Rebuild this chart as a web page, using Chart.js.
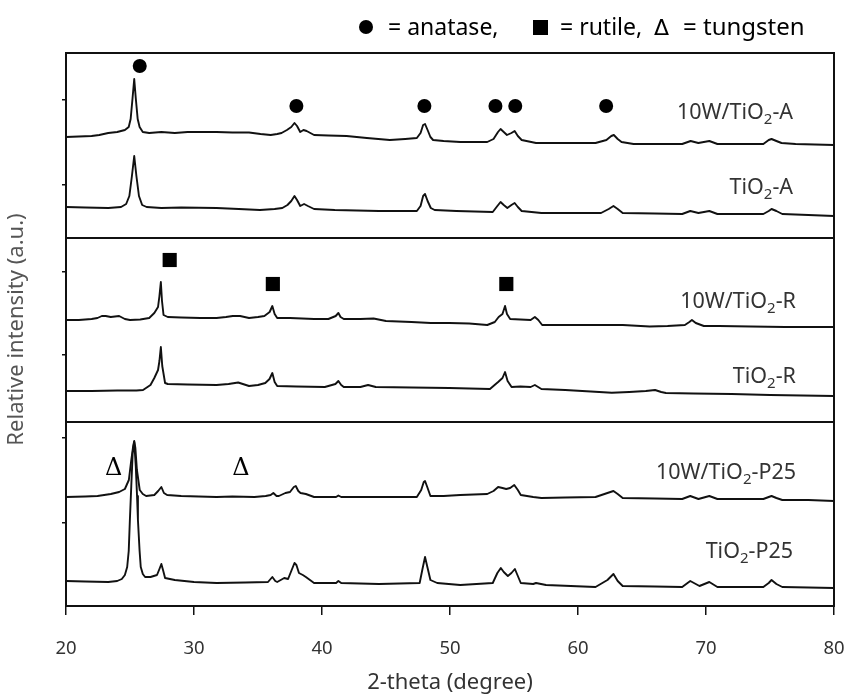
<!DOCTYPE html>
<html><head><meta charset="utf-8">
<script src="https://cdn.jsdelivr.net/npm/chart.js@4"></script>
<style>html,body{margin:0;padding:0;background:#fff}canvas{display:block}</style>
</head><body><canvas id="c" width="849" height="696"></canvas>
<script>
// ---- data (2-theta in degrees, stacked relative intensity in a.u.) ----
const tt_W_A = [20,21,22,22.6,23.3,24,24.6,24.9,25.05,25.2,25.33,25.45,25.6,25.75,26,26.5,27.45,28.5,29.5,30.5,31.76,33,34.3,35.2,35.99,36.5,36.84,37.26,37.6,37.85,38.05,38.3,38.55,38.8,39.38,40.5,41.92,43.5,45.3,46.5,47.41,47.7,47.9,48.05,48.25,48.47,48.68,49.5,50.8,52,52.91,53.4,53.75,53.95,54.2,54.45,54.8,55.05,55.3,55.6,56.72,58,61.37,62.22,62.6,62.8,63.1,63.4,64.34,66,68.14,68.8,69.4,70.26,70.89,72.5,74.48,74.9,75.12,75.5,75.9,77,78.5,80];
const I_W_A  = [469,469.5,470,471,473,474,476,479,487,508,527,508,487,479,474,473,474,473,474,474,474,473.5,473.5,472,471,472,473,476,479,483,480,474,476,475,471,470.5,470,468,466,467,468,473,481,482,476,469,466,465,464,464,464,467,474,477,474,471,473,475,470,466,463,463,463,466,470,471,467,464,462,462,462,465,463,465,462,462,462,466,467,465,463,462,461.5,461];

const tt_A = [20,21.5,23.3,24.3,24.7,24.95,25.15,25.33,25.5,25.7,25.95,26.3,27.45,29,31.76,33.5,35.15,36.3,36.9,37.3,37.6,37.85,38.05,38.3,38.6,38.9,39.38,41,44.45,47.41,47.7,47.9,48.05,48.25,48.5,48.8,50.5,53.34,53.7,53.95,54.2,54.48,54.8,55.05,55.3,55.6,57.14,60,61.8,62.4,62.77,63.1,63.49,66,68.14,68.77,69.41,70.26,70.89,74.48,74.9,75.12,75.5,75.96,78,80];
const I_A  = [399,398.5,398,399,402,410,430,450,430,410,401,399,398,398.5,398,397,396,397,398,401,405,410,406,400,402,400,397,396,395,395,400,410,412,405,398,396,395,394,400,404,401,398,401,403,399,395,393,393,393,397,400,397,393,392.5,392,395,393,395,392,392,395,397,395,392,391,390];

const tt_W_R = [20,21,22,22.46,22.8,23.1,23.5,24.15,24.6,25,25.8,26.5,26.9,27.19,27.3,27.41,27.5,27.62,27.95,29,30.5,31.76,32.5,33.03,33.6,34.3,35,35.5,35.91,36.12,36.3,36.5,37.5,39.38,40.5,41.07,41.28,41.45,41.7,43,44.03,45,46.99,48.5,49.95,51.5,52.91,53.5,53.8,54.1,54.3,54.45,54.7,55.5,56.3,56.63,56.9,57.2,59,62.64,63.5,65.6,67,68.35,68.7,68.9,69.2,69.83,71,73.5,76.17,78,80];
const I_W_R  = [286,286,287,288,290,290,289,290,287,286,286.5,288,293,299,310,324,305,291,289,288.5,288,288,289,290,290,288,289,290,294,300,292,288,288,287,287,290,293,289,287,287,287.5,285,284,283,283,282.5,281,284,289,292,300,292,287,286.5,286,289,286,281,281,281,281,279.5,280,281,284,286,283,280,280,279.5,279,279,279];

const tt_R = [20,22,24,25.5,26.02,26.6,26.9,27.19,27.3,27.41,27.52,27.74,27.95,29.5,31.76,32.7,33.45,34.3,35,35.57,35.9,36.12,36.3,36.5,38,40.22,41.05,41.28,41.5,41.7,43,43.6,44.2,47,49.95,51.5,53.12,53.76,54.1,54.3,54.5,54.81,55.5,56.3,56.63,57.14,59,61,62.64,64,65.3,66.02,66.5,66.87,69,72,75,77.5,80];
const I_R  = [215,215,215.5,215.5,216,221,228,236,245,259,240,223,222,221.5,221,222,223.5,220,221,223,227,233,224,220,219.5,219,222,225,221,219,219,221,219,218.5,218,217.5,217,224,228,234,225,219,219.5,219,221,217,216,214.5,213.3,214,215,216,214,213,212.5,212,211,210.5,210];

const tt_W_P = [20,21.5,22.46,23.5,24.15,24.6,24.91,25.1,25.25,25.33,25.42,25.54,25.76,26,26.26,26.9,27.2,27.45,27.65,27.9,29,31.76,33,34.72,35.6,35.99,36.2,36.45,36.63,37.14,37.5,37.8,37.95,38.15,38.32,38.74,39.38,41.1,41.28,41.5,44.45,47.41,47.75,47.95,48.05,48.25,48.47,49.5,50.8,52.91,53.4,53.76,54.1,54.39,54.7,55.02,55.3,55.53,56.5,57.14,59,61.37,62.3,62.77,63.1,63.49,66,68.14,68.77,69.41,70.26,70.89,72.5,74.48,74.9,75.12,75.5,75.96,78,80];
const I_W_P  = [109,109.5,110,112,114,117,126,146,160,165,158,136,116,112,110,111,115,119,113,111,110,109,109.5,109,110,111,113,110,110,113,114,119,120,115,113,112,109,109,110.5,109,109,109,116,124,125,118,110,110,111,112,115,119,118,117,118,121,116,111,109,108,108.5,109,113,115,112,108,107.5,107,110,107,110,107,107,107,109,110,108,106,106,105];

const tt_P = [20,21.5,23.3,24,24.36,24.6,24.78,24.9,24.99,25.1,25.21,25.33,25.45,25.55,25.62,25.75,25.84,26,26.18,26.6,27.11,27.3,27.45,27.6,27.74,28.5,30,31.76,34,35.78,36.12,36.35,36.5,37.05,37.35,37.6,37.85,38,38.2,38.5,38.74,39.38,41.1,41.28,41.5,44.45,47.63,47.85,48.05,48.25,48.47,49,50.8,53.34,53.7,53.97,54.2,54.52,54.8,55.07,55.3,55.53,56.5,56.72,57.5,61.37,62.3,62.77,63.1,63.49,66,68.14,68.77,69.49,70.26,70.89,74.48,74.9,75.12,75.5,75.96,78,80];
const I_P  = [25,24.5,24,25,27,31,39,55,86,120,153,164,140,110,86,55,39,32,29,29,31,37,42,35,28,26,24,23,23.5,24,29,25,24,28,27,35,43,41,33,31,29,23,23,25,23,22,23,37,49,38,26,23,21,23,33,38,34,30,33,37,30,23,22,23,21,19,26,32,25,20,19.5,19,25,20,24,19,19,23,26,22,19,18.5,18];

const seriesNames = ['10W/TiO2-A','TiO2-A','10W/TiO2-R','TiO2-R','10W/TiO2-P25','TiO2-P25'];
const seriesX = [tt_W_A, tt_A, tt_W_R, tt_R, tt_W_P, tt_P];
const seriesY = [I_W_A, I_A, I_W_R, I_R, I_W_P, I_P];

// label anchors (right edge angle, intensity level)
const labelX = [76.8, 76.8, 77.03, 77.03, 77.03, 76.8];
const labelY = [493, 418, 304, 229, 133, 54];

// phase markers [angle, level]
const anataseMarks = [[25.76,540],[38.0,500],[48.0,500],[53.55,500],[55.1,500],[62.2,500]];
const rutileMarks = [[28.1,346],[36.16,322],[54.4,322]];
const tungstenMarks = [[23.73,137],[33.66,137]];

const xTicks = [20,30,40,50,60,70,80];
const yTickLevels = [83,168,251,334,421,506];
const panelDividers = [184,368];

// ---- chart ----
const lineSets = seriesNames.map((n,i)=>({
  label:n, data: seriesX[i].map((x,k)=>({x, y: seriesY[i][k]})),
  borderColor:'#111', borderWidth:1.9, pointRadius:0, tension:0, fill:false, borderJoinStyle:'round'
}));
const markSet = (arr, style, r) => ({
  type:'scatter', data: arr.map(p=>({x:p[0], y:p[1]})), showLine:false,
  pointStyle:style, pointRadius:r, pointHoverRadius:r, backgroundColor:'#000', borderColor:'#000', borderWidth:0
});

const annot = {
  id:'annot',
  afterDatasetsDraw(chart){
    const {ctx, scales:{x, y}} = chart;
    ctx.save();
    // tungsten deltas
    ctx.fillStyle='#000'; ctx.textAlign='center'; ctx.textBaseline='middle';
    ctx.font='24px "DejaVu Serif"';
    tungstenMarks.forEach(p=>ctx.fillText('Δ', x.getPixelForValue(p[0]), y.getPixelForValue(p[1])));
    // sample labels with subscript
    ctx.fillStyle='#333'; ctx.textBaseline='middle'; ctx.textAlign='left';
    const big='21.5px "Noto Sans"', small='15px "Noto Sans"';
    seriesNames.forEach((n,i)=>{
      const idx=n.indexOf('O2');
      const a=n.slice(0,idx+1), s='2', b=n.slice(idx+2);
      ctx.font=big; const wa=ctx.measureText(a).width, wb=ctx.measureText(b).width;
      ctx.font=small; const ws=ctx.measureText(s).width;
      const right=x.getPixelForValue(labelX[i]), cy=y.getPixelForValue(labelY[i]);
      let px=right-(wa+ws+wb);
      ctx.font=big; ctx.fillText(a,px,cy); px+=wa;
      ctx.font=small; ctx.fillText(s,px,cy+7); px+=ws;
      ctx.font=big; ctx.fillText(b,px,cy);
    });
    // top key
    ctx.fillStyle='#000'; ctx.textBaseline='alphabetic'; ctx.textAlign='left';
    ctx.font='23px "Noto Sans"';
    const ky=35;
    ctx.beginPath(); ctx.arc(366,27,7,0,Math.PI*2); ctx.fill();
    ctx.fillText('= anatase,',388,ky);
    ctx.fillRect(533,20,15,15);
    ctx.fillText('= rutile,',560,ky);
    ctx.font='22px "DejaVu Sans"'; ctx.fillText('Δ',654,ky);
    ctx.font='24px "Noto Sans"'; ctx.fillText('= tungsten',683,ky);
    ctx.restore();
  }
};

new Chart(document.getElementById('c'), {
  type:'line',
  data:{datasets:[...lineSets, markSet(anataseMarks,'circle',7), markSet(rutileMarks,'rect',10)]},
  options:{
    responsive:false, animation:false, devicePixelRatio:1,
    layout:{padding:{left:0,right:15,top:53,bottom:0}},
    plugins:{legend:{display:false}, tooltip:{enabled:false}},
    scales:{
      x:{type:'linear', position:'bottom', min:20, max:80,
        afterBuildTicks:s=>{s.ticks=xTicks.map(v=>({value:v}));},
        ticks:{color:'#333', font:{size:18.5, family:'"Noto Sans"'}, padding:23, maxRotation:0},
        grid:{drawOnChartArea:false, drawTicks:true, tickLength:9, color:'#111', lineWidth:1.5},
        border:{display:true, color:'#111', width:2},
        title:{display:true, text:'2-theta (degree)', color:'#333', font:{size:22, family:'"Noto Sans"'}, padding:{top:0,bottom:0}},
        afterFit:s=>{s.height=90; s.paddingLeft=0; s.paddingRight=0;}
      },
      x2:{type:'linear', position:'top', min:20, max:80,
        ticks:{display:false}, grid:{display:true, drawOnChartArea:false, drawTicks:false},
        border:{display:true, color:'#111', width:2},
        afterFit:s=>{s.height=0; s.paddingLeft=0; s.paddingRight=0;}
      },
      y:{type:'linear', position:'left', min:0, max:553,
        afterBuildTicks:s=>{s.ticks=yTickLevels.map(v=>({value:v}));},
        ticks:{display:false},
        grid:{drawOnChartArea:false, drawTicks:true, tickLength:4, color:'#111', lineWidth:1.5},
        border:{display:true, color:'#111', width:2},
        title:{display:true, text:'Relative intensity (a.u.)', color:'#555', font:{size:22, family:'"Noto Sans"'}, padding:{top:4,bottom:0}},
        afterFit:s=>{s.width=66; s.paddingTop=0; s.paddingBottom=0;}
      },
      yr:{type:'linear', position:'right', min:0, max:553,
        afterBuildTicks:s=>{s.ticks=panelDividers.map(v=>({value:v}));},
        ticks:{display:false},
        grid:{drawOnChartArea:true, drawTicks:false, color:'#111', lineWidth:2},
        border:{display:true, color:'#111', width:2},
        afterFit:s=>{s.width=0; s.paddingTop=0; s.paddingBottom=0;}
      }
    }
  },
  plugins:[annot]
});
</script></body></html>
